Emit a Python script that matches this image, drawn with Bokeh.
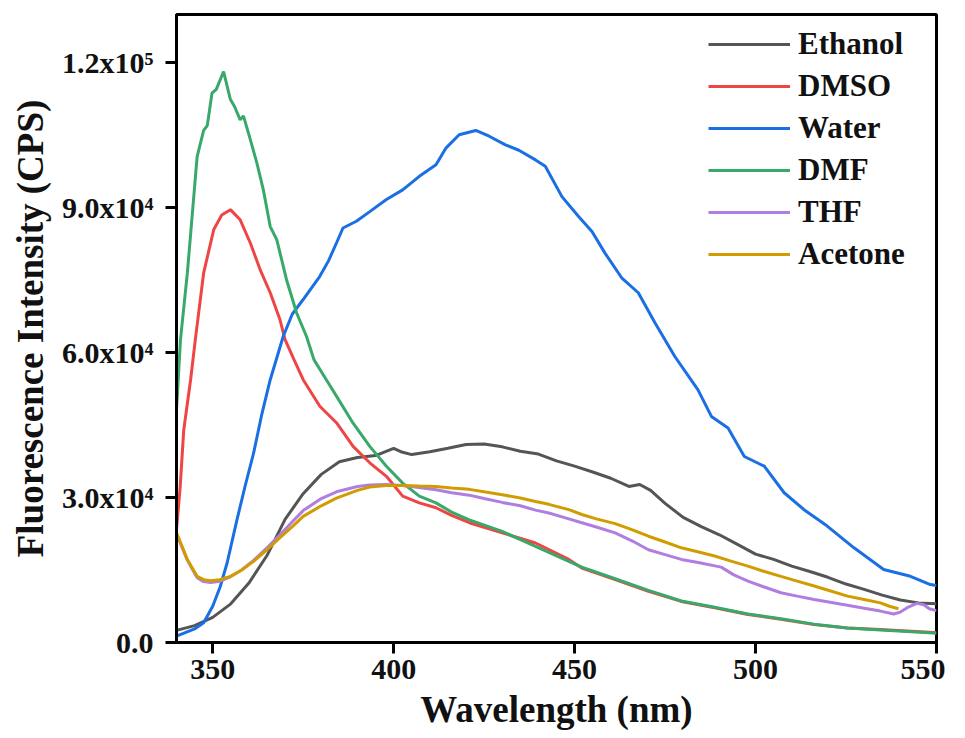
from bokeh.plotting import figure
from bokeh.models import Range1d, Legend, LegendItem, FixedTicker
from bokeh.embed import file_html
from bokeh.resources import INLINE

# ---------------- data ----------------
eth_x = [340, 345, 350, 355, 360, 365, 370, 375, 380, 385, 390, 395, 400, 402, 405, 410, 415, 420, 425, 430,
         435, 440, 445, 450, 455, 460, 465, 468, 471, 475, 480, 485, 490, 495, 500, 505, 510, 515, 520, 525,
         530, 535, 540, 545, 550]
eth_y = [2.5, 3.5, 5.2, 8.0, 12.3, 18.0, 25.5, 30.8, 34.8, 37.4, 38.3, 38.7, 40.2, 39.5, 38.9, 39.5, 40.2,
         41.0, 41.1, 40.5, 39.6, 39.0, 37.6, 36.5, 35.3, 34.0, 32.3, 32.7, 31.5, 28.8, 25.9, 24.0, 22.3, 20.3,
         18.3, 17.2, 15.8, 14.7, 13.5, 12.1, 11.0, 9.8, 8.8, 8.2, 8.0]

dmso_x = [340, 341, 342, 343.9, 345.2, 347.5, 350.3, 352.5, 354.9, 357.6, 360.4, 363.1, 365.9, 368.6, 370,
          372.5, 375, 379.6, 384.2, 388.8, 393.4, 398, 402.5, 407.1, 411.7, 416, 420.9, 430, 439.2, 448.4,
          452, 461.2, 470.4, 479.5, 488.7, 497.9, 507, 516.2, 525.4, 534.5, 548, 550]
dmso_y = [23.4, 32.0, 44.0, 54.4, 62.7, 76.5, 85.5, 88.5, 89.6, 87.5, 82.7, 77.2, 72.4, 66.8, 62.7, 58.5,
          54.4, 48.9, 45.5, 40.6, 37.2, 34.4, 30.3, 28.9, 27.9, 26.3, 24.8, 22.7, 20.6, 17.2, 15.4, 13.0,
          10.6, 8.5, 7.2, 5.8, 4.8, 3.7, 3.0, 2.7, 2.1, 2.0]

water_x = [340, 345, 347.5, 350, 352.1, 354, 356.7, 359, 361.3, 363.5, 365.9, 369.5, 372, 375, 379.6, 382,
           384.2, 386, 389.7, 393.4, 398, 402.5, 407.1, 411.7, 414.5, 418.1, 422.7, 426.4, 430.9, 434.6,
           439.2, 441.9, 446.5, 451.1, 454.8, 458.4, 463, 467.6, 472.2, 477.7, 484.1, 487.8, 492.4, 496.9,
           502.4, 507.9, 513.4, 519.8, 527.2, 535.4, 542.8, 548.3, 550]
water_y = [1.3, 2.8, 4.1, 7.5, 11.6, 16.5, 25.4, 32.5, 39.2, 47.0, 54.4, 63.4, 68.0, 71.0, 75.8, 79.0, 82.7,
           85.8, 87.2, 89.2, 91.7, 93.7, 96.5, 98.9, 102.4, 105.1, 106.0, 104.8, 103.0, 101.9, 99.9, 98.6,
           92.3, 88.2, 85.1, 80.6, 75.5, 72.4, 66.2, 59.2, 52.3, 46.8, 44.4, 38.5, 36.5, 31.0, 27.5, 24.1,
           19.6, 15.1, 13.7, 12.0, 11.8]

dmf_x = [340, 341.1, 343, 345.7, 347.5, 348.5, 349.8, 351, 353, 354.9, 356, 357.6, 358.5, 360.4, 362.2, 364,
         365.9, 367.7, 370.4, 373.2, 375.9, 378, 381.4, 384.2, 388.8, 393.4, 398, 402.5, 407.1, 411.7, 416,
         420.9, 430, 439.2, 448.4, 452, 461.2, 470.4, 479.5, 488.7, 497.9, 507, 516.2, 525.4, 534.5, 548, 550]
dmf_y = [48.2, 62.7, 76.5, 100.6, 106.0, 107.0, 113.7, 114.5, 118.2, 112.4, 111.0, 108.2, 109.0, 104.1, 99.3,
         93.7, 86.1, 83.4, 75.1, 68.2, 63.4, 58.5, 54.4, 51.0, 45.4, 40.6, 36.5, 33.0, 30.3, 28.9, 27.0, 25.4,
         23.0, 19.9, 16.8, 15.6, 13.2, 10.8, 8.6, 7.3, 5.9, 4.9, 3.8, 3.0, 2.6, 2.0, 1.9]

thf_x = [340, 343, 345.7, 347.5, 349.4, 352, 354.9, 358, 361.3, 365, 368.6, 372, 375, 380, 384.2, 390, 393.4,
         398, 402.5, 407, 411.7, 416, 420.9, 425, 430, 435, 439.2, 442.9, 448.4, 452, 456, 461.2, 466, 470.4,
         475, 479.5, 484.5, 490.5, 494, 497.9, 502, 507, 511.5, 516.2, 521, 525.4, 530, 534.5, 538.2, 540,
         541.9, 544.6, 546.5, 548, 550]
thf_y = [22.5, 17.0, 13.4, 12.6, 12.4, 12.7, 13.6, 15.0, 17.0, 19.6, 22.3, 25.0, 27.3, 29.8, 31.2, 32.3, 32.6,
         32.7, 32.5, 32.1, 31.6, 31.0, 30.5, 29.8, 29.0, 28.3, 27.4, 26.8, 25.6, 24.8, 23.9, 22.7, 21.0, 19.2,
         18.2, 17.2, 16.5, 15.6, 14.0, 12.7, 11.6, 10.3, 9.6, 8.9, 8.3, 7.7, 7.1, 6.5, 5.9, 6.3, 7.2, 8.1,
         7.8, 7.0, 6.6]

ace_x = [340, 343, 345.7, 347.5, 349.4, 352, 354.9, 358, 361.3, 365, 368.6, 372, 375, 380, 384.2, 390, 393.4,
         398, 402.5, 407, 411.7, 416, 420.9, 425, 430, 435, 439.2, 442.9, 448.4, 452, 456, 461.2, 466, 470.4,
         475, 479.5, 484, 488.7, 493, 497.9, 502, 507, 511.5, 516.2, 521, 525.4, 530, 534.5, 537, 539.5]
ace_y = [22.7, 17.2, 13.7, 13.0, 12.8, 13.0, 13.7, 15.0, 16.8, 19.2, 21.7, 24.0, 26.1, 28.3, 29.9, 31.5, 32.2,
         32.5, 32.5, 32.4, 32.3, 32.0, 31.7, 31.2, 30.6, 29.9, 29.2, 28.6, 27.5, 26.5, 25.6, 24.6, 23.3, 22.0,
         20.8, 19.6, 18.8, 17.9, 16.9, 15.8, 14.8, 13.7, 12.7, 11.7, 10.6, 9.6, 8.9, 8.2, 7.5, 7.0]

series_names = ["Ethanol", "DMSO", "Water", "DMF", "THF", "Acetone"]
series_colors = ["#555555", "#f04545", "#1a6fe3", "#38a96a", "#b07ee0", "#d19c00"]

x_ticks = [350, 400, 450, 500, 550]
y_ticks = [0, 30000, 60000, 90000, 120000]
y_tick_labels = ["0.0", "3.0x10\u2074", "6.0x10\u2074", "9.0x10\u2074", "1.2x10\u2075"]

x_title = "Wavelength (nm)"
y_title = "Fluorescence Intensity (CPS)"

# ---------------- figure ----------------
FONT = "Liberation Serif"

p = figure(width=945, height=732, output_backend="svg", toolbar_location=None,
           x_range=Range1d(340, 550), y_range=Range1d(0, 130000),
           min_border_left=176, min_border_right=9, min_border_top=14, min_border_bottom=87)
p.background_fill_color = "white"
p.border_fill_color = "white"
p.grid.visible = False
p.outline_line_color = "black"
p.outline_line_width = 3

xs = [eth_x, dmso_x, water_x, dmf_x, thf_x, ace_x]
ys = [eth_y, dmso_y, water_y, dmf_y, thf_y, ace_y]
items = []
for name, col, xx, yy in zip(series_names, series_colors, xs, ys):
    r = p.line([float(v) for v in xx], [v * 1000 for v in yy], line_color=col, line_width=3)
    items.append(LegendItem(label=name, renderers=[r]))

for ax in (p.xaxis[0], p.yaxis[0]):
    ax.axis_line_width = 3
    ax.major_tick_line_width = 3
    ax.major_tick_in = 0
    ax.major_tick_out = 11
    ax.minor_tick_line_color = None
    ax.major_label_text_font = FONT
    ax.major_label_text_font_style = "bold"
    ax.major_label_text_font_size = "30px"
    ax.major_label_text_color = "#111111"
    ax.axis_label_text_font = FONT
    ax.axis_label_text_font_style = "bold"
    ax.axis_label_text_color = "#111111"
    ax.axis_label_text_font_size = "37px"

p.xaxis.ticker = FixedTicker(ticks=x_ticks)
p.yaxis.ticker = FixedTicker(ticks=y_ticks)
p.yaxis.major_label_overrides = {t: l for t, l in zip(y_ticks, y_tick_labels)}
p.xaxis.axis_label = x_title
p.yaxis.axis_label = y_title
p.xaxis.major_label_standoff = 6
p.yaxis.major_label_standoff = 12
p.xaxis.axis_label_standoff = 7
p.yaxis.axis_label_standoff = 8

legend = Legend(items=items, location=(532, 370))
legend.border_line_color = None
legend.background_fill_alpha = 0
legend.margin = 0
legend.padding = 0
legend.spacing = 6
legend.glyph_width = 82
legend.glyph_height = 30
legend.label_height = 30
legend.label_standoff = 8
legend.label_text_font = FONT
legend.label_text_font_style = "bold"
legend.label_text_font_size = "31px"
legend.label_text_color = "#111111"
p.add_layout(legend)

open("out.html", "w").write(file_html(p, INLINE))
